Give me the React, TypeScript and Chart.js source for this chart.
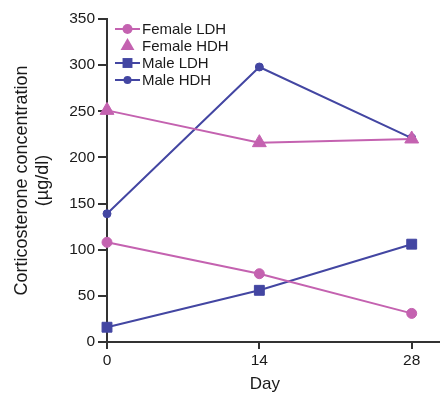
import React, { useEffect, useRef } from "react";
import { Chart, registerables } from "chart.js";

Chart.register(...registerables);

const days = [0, 14, 28];
const xTicks = [0, 14, 28];
const seriesNames = ["Female LDH", "Female HDH", "Male LDH", "Male HDH"];
const femaleLDH = [108, 74, 31];
const femaleHDH = [251, 216, 220];
const maleLDH = [16, 56, 106];
const maleHDH = [139, 298, 221];
const xTitle = "Day";

const PINK = "#c462b0";
const BLUE = "#4346a2";
const AXIS = "#333333";
const TEXT = "#1a1a1a";
const FONT = "'Liberation Sans', Arial, sans-serif";

function drawPoint(ctx: CanvasRenderingContext2D, style: string, r: number, x: number, y: number) {
  ctx.beginPath();
  if (style === "circle") {
    ctx.arc(x, y, r, 0, Math.PI * 2);
  } else if (style === "rect") {
    const s = Math.SQRT1_2 * r;
    ctx.rect(x - s, y - s, 2 * s, 2 * s);
  } else if (style === "triangle") {
    const a = -Math.PI / 2;
    ctx.moveTo(x + Math.cos(a) * r, y + Math.sin(a) * r);
    ctx.lineTo(x + Math.cos(a + (2 * Math.PI) / 3) * r, y + Math.sin(a + (2 * Math.PI) / 3) * r);
    ctx.lineTo(x + Math.cos(a + (4 * Math.PI) / 3) * r, y + Math.sin(a + (4 * Math.PI) / 3) * r);
    ctx.closePath();
  }
  ctx.fill();
}

const legendPlugin = {
  id: "customLegend",
  afterDraw(chart: any) {
    const ctx = chart.ctx;
    const ds = chart.data.datasets;
    const x0 = 115;
    const x1 = 140;
    const rows = [29, 46, 63, 80];
    ctx.save();
    ds.forEach((d: any, i: number) => {
      const y = rows[i];
      const cx = (x0 + x1) / 2;
      if (d.legendLine !== false) {
        ctx.strokeStyle = d.borderColor;
        ctx.lineWidth = 2;
        ctx.beginPath();
        ctx.moveTo(x0, y);
        ctx.lineTo(x1, y);
        ctx.stroke();
      }
      ctx.fillStyle = d.pointBackgroundColor;
      drawPoint(ctx, d.pointStyle, d.pointRadius, cx, y);
      ctx.fillStyle = TEXT;
      ctx.font = `15px ${FONT}`;
      ctx.textBaseline = "middle";
      ctx.textAlign = "left";
      ctx.fillText(d.label, x1 + 2, y + 1);
    });
    // x-axis title, centred slightly left of the plot centre as in the reference
    ctx.font = `17px ${FONT}`;
    ctx.textAlign = "center";
    ctx.textBaseline = "middle";
    ctx.fillStyle = TEXT;
    const xs = chart.scales.x;
    ctx.fillText(xTitle, xs.getPixelForValue(14.5), 384);
    ctx.restore();
  },
};

function toPts(vals: number[]) {
  return days.map((d, i) => ({ x: d, y: vals[i] }));
}

export default function App() {
  const ref = useRef<HTMLCanvasElement>(null);
  useEffect(() => {
    document.body.style.margin = "0";
    const mk = (label: string, vals: number[], color: string, style: string, r: number, legendLine = true) => ({
      label,
      data: toPts(vals),
      borderColor: color,
      backgroundColor: color,
      pointBackgroundColor: color,
      pointBorderColor: color,
      pointBorderWidth: 1,
      pointStyle: style,
      pointRadius: r,
      borderWidth: 2,
      legendLine,
      clip: false as any,
    });
    const chart = new Chart(ref.current!, {
      type: "line",
      data: {
        datasets: [
          mk(seriesNames[0], femaleLDH, PINK, "circle", 5),
          mk(seriesNames[1], femaleHDH, PINK, "triangle", 8, false),
          mk(seriesNames[2], maleLDH, BLUE, "rect", 7),
          mk(seriesNames[3], maleHDH, BLUE, "circle", 4),
        ] as any,
      },
      options: {
        animation: false,
        responsive: false,
        layout: { autoPadding: false, padding: { top: 19, left: 0, right: 0, bottom: 0 } } as any,
        plugins: { legend: { display: false }, tooltip: { enabled: false } },
        scales: {
          x: {
            type: "linear",
            min: 0,
            max: 30.6,
            afterBuildTicks: (s: any) => {
              s.ticks = xTicks.map((v) => ({ value: v }));
            },
            afterFit: (s: any) => {
              s.height = 53;
              s.paddingRight = 0;
              s.paddingLeft = 0;
            },
            grid: { display: true, drawOnChartArea: false, drawTicks: true, tickLength: 7, color: AXIS, lineWidth: 2 },
            border: { display: true, color: AXIS, width: 2 },
            ticks: { color: TEXT, font: { family: FONT, size: 15.5 }, padding: 2, maxRotation: 0 },
            title: { display: false },
          },
          y: {
            min: 0,
            max: 350,
            afterFit: (s: any) => {
              s.width = 107;
              s.paddingTop = 0;
              s.paddingBottom = 0;
            },
            ticks: { stepSize: 50, color: TEXT, font: { family: FONT, size: 15.5 }, padding: 3 },
            grid: { display: true, drawOnChartArea: false, drawTicks: true, tickLength: 9, color: AXIS, lineWidth: 2 },
            border: { display: true, color: AXIS, width: 2 },
            title: {
              display: true,
              text: ["Corticosterone concentration", "(\u00b5g/dl)"],
              color: TEXT,
              font: { family: FONT, size: 18, lineHeight: 1.2 },
              padding: { top: 11, bottom: 0 },
            },
          },
        },
      },
      plugins: [legendPlugin],
    });
    return () => chart.destroy();
  }, []);
  return (
    <div style={{ position: "absolute", left: 0, top: 0, width: 440, height: 395 }}>
      <canvas ref={ref} width={440} height={395} style={{ width: 440, height: 395 }} />
    </div>
  );
}
